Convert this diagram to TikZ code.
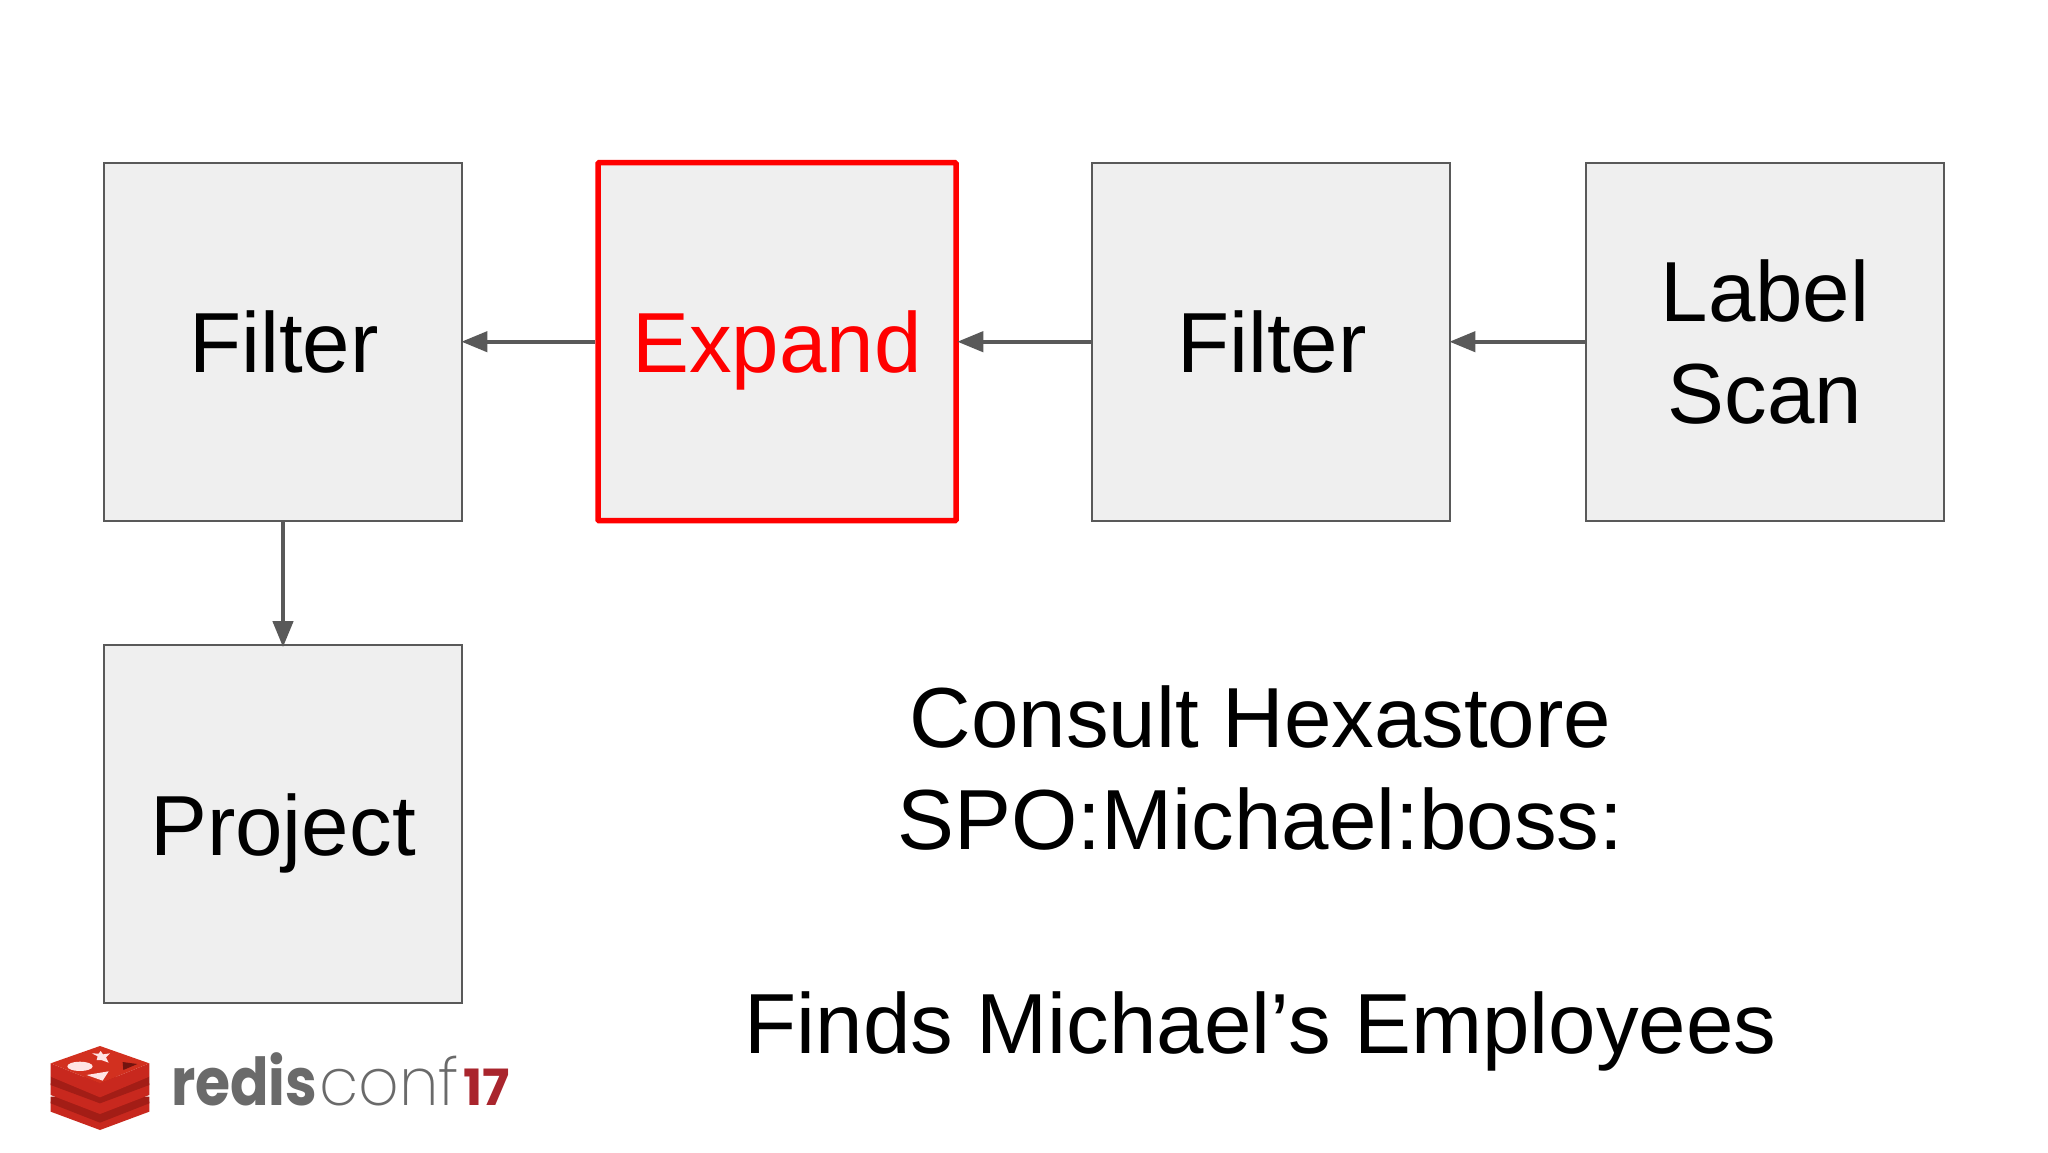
\documentclass[tikz,border=0pt]{standalone}
\usepackage{fontspec}
\setmainfont{Liberation Sans}
\newfontfamily\logobold{Poppins Bold}
\newfontfamily\logolight{Poppins ExtraLight}
\usetikzlibrary{arrows.meta}
\definecolor{boxfill}{HTML}{EFEFEF}
\definecolor{edgegrey}{HTML}{595959}
\definecolor{logored}{HTML}{C8281E}
\definecolor{logodark}{HTML}{A31D16}
\definecolor{logotop}{HTML}{D2301F}
\definecolor{logotext}{HTML}{6A6A6A}
\definecolor{logoseventeen}{HTML}{A9252D}
\tikzset{
  opbox/.style={draw=edgegrey,line width=1.7pt,fill=boxfill,minimum width=358pt,minimum height=358pt,inner sep=0pt,
    font=\fontsize{85.3}{102}\selectfont,align=center,text=black},
  oneline/.style={text height=82pt,text depth=20pt},
  active/.style={draw=red,line width=5.5pt,text=red,rounded corners=1pt},
  flow/.style={draw=edgegrey,line width=4.2pt,-{Triangle[length=26pt,width=20pt]},shorten >=-1.5pt},
  bigtext/.style={font=\fontsize{85.3}{102}\selectfont,align=center,text=black,inner sep=0pt},
}
\begin{document}
\begin{tikzpicture}[x=1pt,y=-1pt]
\useasboundingbox (0,0) rectangle (2048,1152);
\fill[white] (0,0) rectangle (2048,1152);
\node[opbox,oneline] (filterA) at (283,341.7) {\hspace*{2pt}Filter};
\node[opbox,oneline,active] (expand) at (777,341.7) {Expand};
\node[opbox,oneline] (filterB) at (1271,341.7) {\hspace*{2pt}Filter};
\node[opbox] (scan) at (1765,341.7) {Label\\Scan};
\node[opbox,oneline] (project) at (283,824) {Project};
\draw[flow] (expand.west) -- (filterA.east);
\draw[flow] (filterB.west) -- (expand.east);
\draw[flow] (scan.west) -- (filterB.east);
\draw[flow,shorten >=-3pt] (filterA.south) -- (project.north);
\node[bigtext,anchor=center] (note) at (1260.5,878) {Consult Hexastore\\SPO:Michael:boss:\\ \\Finds Michael’s Employees};
% logo
\begin{scope}[shift={(30,1020)},x=0.3333pt,y=-0.3333pt]
  \fill[logored] (62,245) -- (62,275) -- (210,330) -- (358,275) -- (358,245) -- (210,290) -- cycle;
  \fill[logodark] (62,230) -- (62,250) -- (210,308) -- (358,250) -- (358,230) -- cycle;
  \fill[logored] (62,190) -- (62,225) -- (210,282) -- (358,225) -- (358,190) -- (210,245) -- cycle;
  \fill[logodark] (62,170) -- (62,195) -- (210,250) -- (358,195) -- (358,170) -- cycle;
  \fill[logored] (62,130) -- (62,170) -- (210,232) -- (358,170) -- (358,130) -- (210,190) -- cycle;
  \fill[logotop] (62,130) -- (210,78) -- (358,130) -- (210,190) -- cycle;
  \fill[white!90!red] (150,139) ellipse [x radius=38,y radius=14];
  \fill[white!90!red] (212,93) -- (219,103) -- (240,100) -- (228,112) -- (236,128) -- (214,120) -- (200,120) -- (203,109) -- (186,100) -- (206,101) -- cycle;
  \fill[white!90!red] (236,154) -- (218,182) -- (170,165) -- cycle;
  \fill[logodark!70!black] (278,126) -- (322,132) -- (280,150) -- cycle;
\end{scope}
\node[anchor=base west,inner sep=0pt,text=logotext,font=\logobold\fontsize{66}{66}\selectfont] (logoA) at (171,1105) {\scalebox{0.86}[1]{redis}};
\node[anchor=base west,inner sep=0pt,text=logotext,font=\logolight\fontsize{66}{66}\selectfont] (logoB) at (319,1105) {\scalebox{0.96}[1]{conf}};
\node[anchor=base west,inner sep=0pt,text=logoseventeen,font=\logobold\fontsize{50}{50}\selectfont] (logoC) at (463,1105) {\scalebox{1.02}[1]{17}};
\end{tikzpicture}
\end{document}
